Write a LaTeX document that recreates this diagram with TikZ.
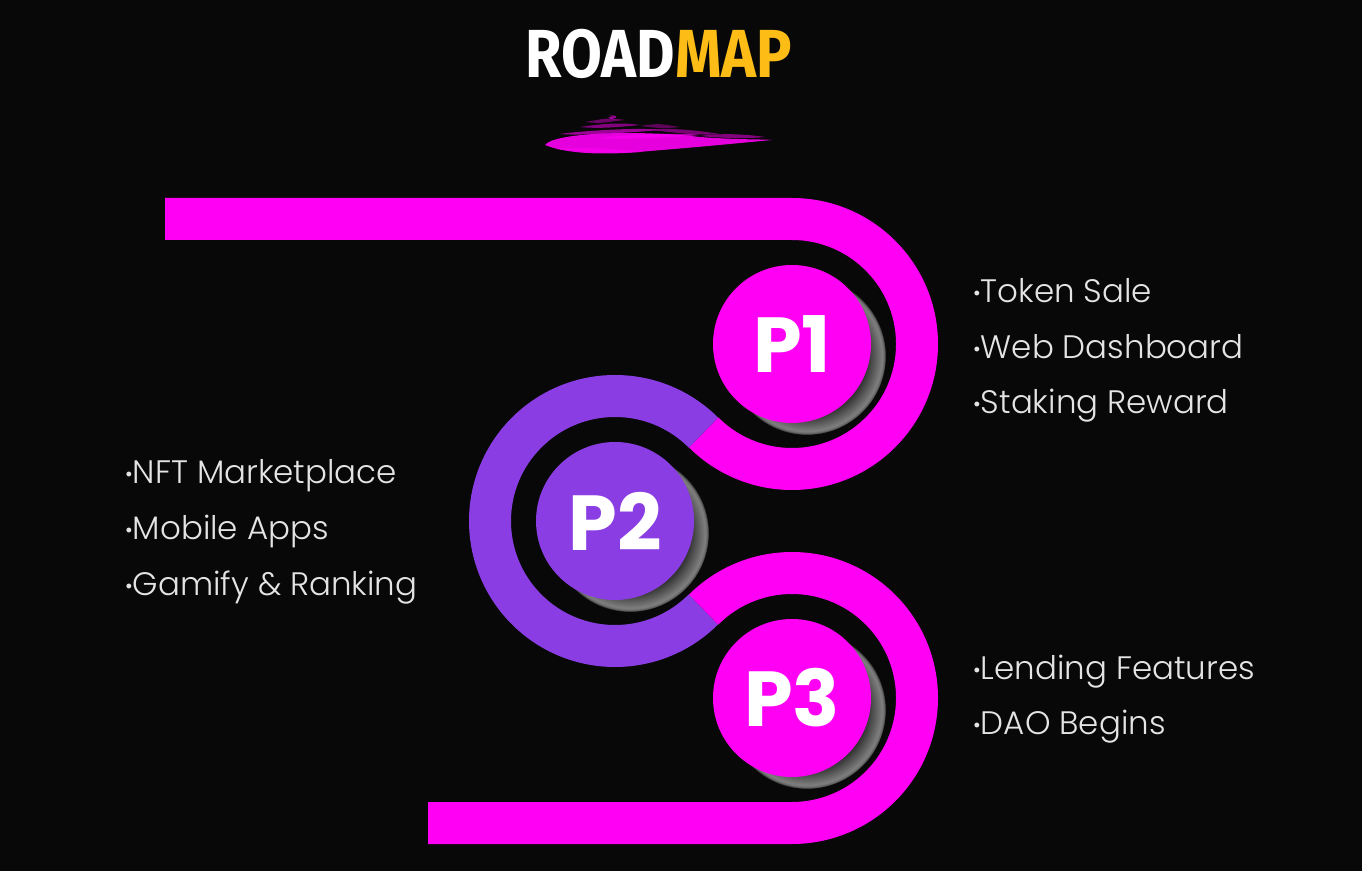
\documentclass[tikz,border=0pt]{standalone}
\usepackage{fontspec}
\setmainfont{Poppins}
\newfontfamily\titlefont{Fira Sans}
\newfontfamily\itemfont{Poppins Light}
\usetikzlibrary{positioning}

\definecolor{bgblack}{HTML}{080808}
\definecolor{roadpink}{HTML}{FF00F5}
\definecolor{roadpurple}{HTML}{8A3DE2}
\definecolor{roadgold}{HTML}{FDBD16}
\definecolor{itemgray}{HTML}{E4E4E4}
\pgfdeclareradialshading{discshadow}{\pgfpoint{0bp}{0bp}}{color(0bp)=(black!82); color(19bp)=(black!80); color(23.8bp)=(black!50); color(24.5bp)=(black!62); color(25bp)=(black!95); color(50bp)=(black!95)}
\newcommand{\dotmark}{{\fontsize{21}{21}\selectfont\raisebox{2pt}{•}}}

\begin{document}
\begin{tikzpicture}[x=1pt,y=1pt,
    band/.style={line width=42pt},
    phase/.style={circle,minimum size=158pt,inner sep=0pt,text=white,
        font=\bfseries\fontsize{78}{78}\selectfont},
    item/.style={anchor=base west,inner sep=0pt,text=itemgray,
        font=\itemfont\fontsize{32.5}{32.5}\selectfont}]

        \fill[bgblack] (0,0) rectangle (1362,871);
        \useasboundingbox (0,0) rectangle (1362,871);

        % \draw [help lines,step=50] (0,0) grid (1362,871);

        \coordinate (c1) at (792,527);
        \coordinate (c2) at (615,350);
        \coordinate (c3) at (792,173);
        \coordinate (topend) at (165,652);
        \coordinate (botend) at (428,48);

        \node (title) [inner sep=0pt,xscale=0.87] at (659,817)
        {\titlefont\bfseries\fontsize{68}{68}\selectfont\textcolor{white}{ROAD}\textcolor{roadgold}{MAP}};

        % brush stroke under the title
        \fill[roadpink,opacity=0.9] (545,726) .. controls (555,739) and (640,741) .. (700,734)
            .. controls (740,731) and (760,732) .. (772,731)
            .. controls (740,728) and (700,724) .. (650,720)
            .. controls (610,716) and (570,716) .. (545,726) -- cycle;
        \foreach \xa/\ya/\xb/\yb/\op in {560/737/660/741/0.6, 580/744/640/746/0.5, 585/749/625/751/0.4,
                                         600/733/700/736/0.7, 650/741/720/737/0.45, 700/735/765/734/0.5,
                                         555/722/640/719/0.6, 610/752/615/755/0.6, 640/745/680/744/0.35}
            \fill[roadpink,opacity=\op] (\xa,\ya) .. controls (\xa+20,\ya+3) and (\xb-20,\yb+3) .. (\xb,\yb)
                .. controls (\xb-20,\yb-2) and (\xa+20,\ya-2) .. (\xa,\ya) -- cycle;

        \draw[band,roadpink] (topend) -- ([yshift=125pt]c1) arc[start angle=90,end angle=-135,radius=125];
        \draw[band,roadpurple] ([shift={(45:125)}]c2) arc[start angle=45,end angle=315,radius=125];
        \draw[band,roadpink] ([shift={(135:125)}]c3) arc[start angle=135,end angle=-90,radius=125] -- (botend);

        \fill[shading=discshadow] ([shift={(15,-12)}]c1) circle (79);
        \fill[shading=discshadow] ([shift={(15,-12)}]c2) circle (79);
        \fill[shading=discshadow] ([shift={(15,-12)}]c3) circle (79);

        \path   (c1) node (p1) [phase,fill=roadpink] {P1}
                (c2) node (p2) [phase,fill=roadpurple] {P2}
                (c3) node (p3) [phase,fill=roadpink] {P3};

        \node (sale) [item] at (973,568) {\dotmark Token Sale};
        \node (dash) [item] at (973,512.5) {\dotmark Web Dashboard};
        \node (stake) [item] at (973,457) {\dotmark Staking Reward};

        \node (nft) [item] at (125,387) {\dotmark NFT Marketplace};
        \node (mobile) [item] at (125,331.5) {\dotmark Mobile Apps};
        \node (gamify) [item] at (125,276) {\dotmark Gamify \& Ranking};

        \node (lend) [item] at (973,192) {\dotmark Lending Features};
        \node (dao) [item] at (973,136.5) {\dotmark DAO Begins};

\end{tikzpicture}
\end{document}
